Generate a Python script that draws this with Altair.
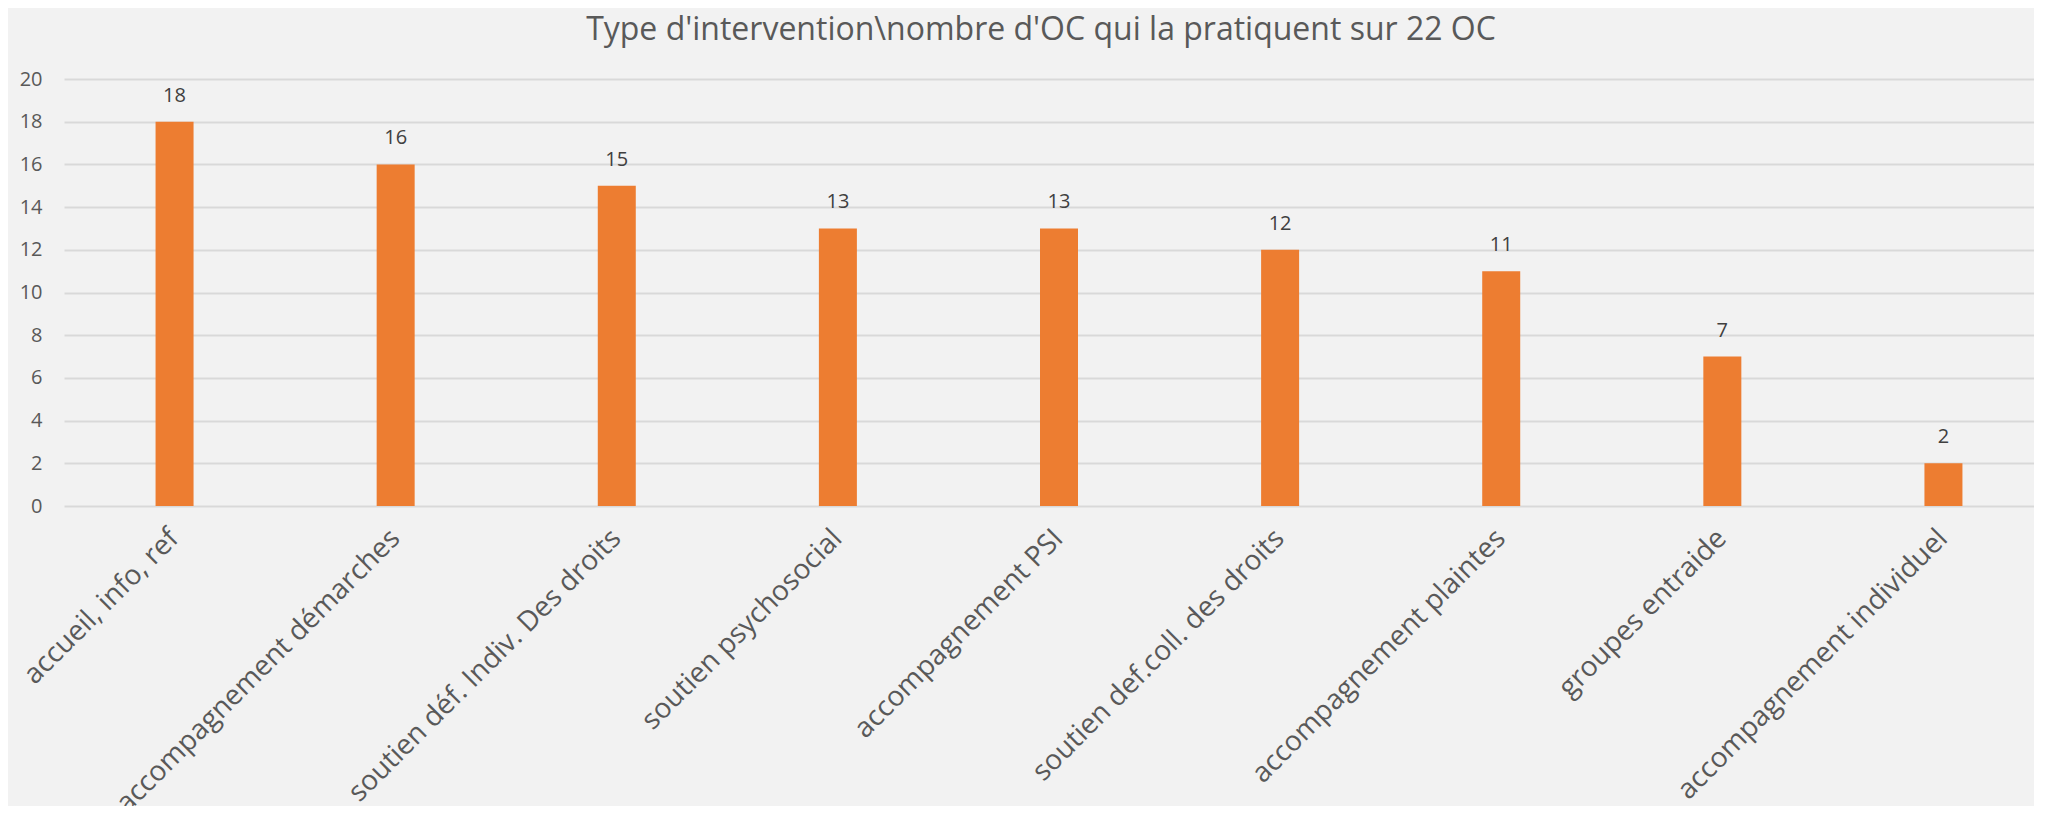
import altair as alt
import pandas as pd

categories = [
    "accueil, info, ref",
    "accompagnement démarches",
    "soutien déf. Indiv. Des droits",
    "soutien psychosocial",
    "accompagnement PSI",
    "soutien def.coll. des droits",
    "accompagnement plaintes",
    "groupes entraide",
    "accompagnement individuel",
]
values = [18, 16, 15, 13, 13, 12, 11, 7, 2]
y_ticks = [0, 2, 4, 6, 8, 10, 12, 14, 16, 18, 20]
title_text = "Type d'intervention\\nombre d'OC qui la pratiquent sur 22 OC"

df = pd.DataFrame({"cat": categories, "val": values})
FONT = "Open Sans"

base = alt.Chart(df).encode(
    x=alt.X(
        "cat:N",
        sort=categories,
        title=None,
        scale=alt.Scale(paddingInner=0, paddingOuter=0, range=[0, 1990]),
        axis=alt.Axis(
            labelAngle=-45,
            labelAlign="right",
            labelBaseline="middle",
            labelFontSize=28,
            labelFont=FONT,
            labelColor="#595959",
            labelPadding=28,
            ticks=False,
            domain=False,
            grid=False,
            labelLimit=600,
            labelOverlap=False,
        ),
    ),
    y=alt.Y(
        "val:Q",
        title=None,
        scale=alt.Scale(domain=[0, 20], nice=False),
        axis=alt.Axis(
            values=y_ticks,
            labelFontSize=20,
            labelFont=FONT,
            labelColor="#595959",
            labelPadding=22,
            ticks=False,
            domain=False,
            grid=True,
            gridColor="#d9d9d9",
            gridWidth=2,
        ),
    ),
)

bars = base.mark_bar(color="#ed7d31", size=38)
labels = base.mark_text(
    dy=-26, fontSize=20, font=FONT, color="#404040", baseline="middle"
).encode(text="val:Q")

chart = (
    (bars + labels)
    .properties(
        width=1970,
        height=427,
        title=alt.TitleParams(
            text=title_text,
            fontSize=32,
            font=FONT,
            fontWeight="normal",
            color="#595959",
            anchor="middle",
            offset=22,
            dx=-8,
        ),
        background="#f2f2f2",
        autosize=alt.AutoSizeParams(type="none"),
        padding={"left": 56, "top": 71, "right": 0, "bottom": 300},
    )
    .configure_view(stroke=None)
)

chart.save("out.html", embed_options={"renderer": "svg", "actions": False})
